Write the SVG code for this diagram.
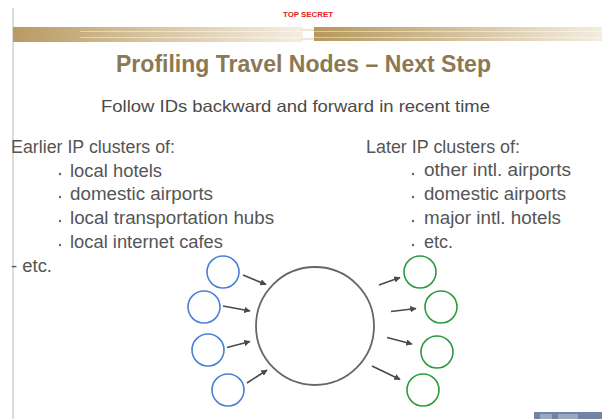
<svg xmlns="http://www.w3.org/2000/svg" width="602" height="419" viewBox="0 0 602 419">
<defs>
<linearGradient id="barL" x1="0" y1="0" x2="1" y2="0">
<stop offset="0" stop-color="#b89a62"/>
<stop offset="0.45" stop-color="#d6c29d"/>
<stop offset="1" stop-color="#f4eee2"/>
</linearGradient>
<linearGradient id="barR" x1="0" y1="0" x2="1" y2="0">
<stop offset="0" stop-color="#b5985c"/>
<stop offset="0.5" stop-color="#d4c19c"/>
<stop offset="1" stop-color="#f3ede0"/>
</linearGradient>
<marker id="ah" viewBox="0 0 10 10" refX="9" refY="5" markerWidth="4" markerHeight="4" orient="auto">
<path d="M0,0 L10,5 L0,10 z" fill="#4a4a4a"/>
</marker>
<style>
.list{font-family:"Liberation Sans","Open Sans",sans-serif;font-size:17.5px;fill:#555555}
.blue{fill:none;stroke:#4a7fd8;stroke-width:1.6}
.green{fill:none;stroke:#2e9a3e;stroke-width:1.6}
.arr{stroke:#4a4a4a;stroke-width:1.6;fill:none;marker-end:url(#ah)}
</style>
</defs>
<rect width="602" height="419" fill="#ffffff"/>
<line x1="13" y1="8" x2="13" y2="419" stroke="#d2d2d2" stroke-width="1.5"/>
<text x="308" y="17" text-anchor="middle" font-family="Liberation Sans,sans-serif" font-size="7.2" font-weight="bold" fill="#e8201c" textLength="50" lengthAdjust="spacingAndGlyphs">TOP SECRET</text>
<!-- header bar -->
<rect x="13" y="27" width="290" height="15" fill="url(#barL)"/>
<rect x="300" y="29" width="14" height="2" fill="#efe6d6"/>
<rect x="300" y="38" width="14" height="2" fill="#efe6d6"/>
<rect x="314" y="27" width="288" height="14" fill="url(#barR)"/>
<rect x="80" y="31" width="522" height="1" fill="#ffffff" opacity="0.45"/>
<rect x="80" y="37" width="522" height="1" fill="#ffffff" opacity="0.45"/>
<text x="116" y="72" font-family="Liberation Sans,sans-serif" font-size="23" font-weight="bold" fill="#8c7852" textLength="375" lengthAdjust="spacingAndGlyphs">Profiling Travel Nodes – Next Step</text>
<text x="101" y="112" font-family="Liberation Sans,sans-serif" font-size="16.5" fill="#4a4a4a" textLength="389" lengthAdjust="spacingAndGlyphs">Follow IDs backward and forward in recent time</text>
<g id="left-list">
<text class="list" x="11" y="153" textLength="164" lengthAdjust="spacingAndGlyphs">Earlier IP clusters of:</text>
<circle cx="60" cy="174" r="1.2" fill="#666"/>
<text class="list" x="70" y="177" textLength="92" lengthAdjust="spacingAndGlyphs">local hotels</text>
<circle cx="60" cy="197" r="1.2" fill="#666"/>
<text class="list" x="70" y="200" textLength="143" lengthAdjust="spacingAndGlyphs">domestic airports</text>
<circle cx="60" cy="221" r="1.2" fill="#666"/>
<text class="list" x="70" y="224" textLength="204" lengthAdjust="spacingAndGlyphs">local transportation hubs</text>
<circle cx="60" cy="245" r="1.2" fill="#666"/>
<text class="list" x="70" y="248" textLength="153" lengthAdjust="spacingAndGlyphs">local internet cafes</text>
<text class="list" x="11" y="272" textLength="41" lengthAdjust="spacingAndGlyphs">- etc.</text>
</g>
<g id="right-list">
<text class="list" x="366" y="153" textLength="154" lengthAdjust="spacingAndGlyphs">Later IP clusters of:</text>
<circle cx="413" cy="174" r="1.2" fill="#666"/>
<text class="list" x="424" y="176" textLength="147" lengthAdjust="spacingAndGlyphs">other intl. airports</text>
<circle cx="413" cy="197" r="1.2" fill="#666"/>
<text class="list" x="424" y="200" textLength="142" lengthAdjust="spacingAndGlyphs">domestic airports</text>
<circle cx="413" cy="221" r="1.2" fill="#666"/>
<text class="list" x="424" y="224" textLength="137" lengthAdjust="spacingAndGlyphs">major intl. hotels</text>
<circle cx="413" cy="245" r="1.2" fill="#666"/>
<text class="list" x="424" y="248" textLength="29" lengthAdjust="spacingAndGlyphs">etc.</text>
</g>
<g id="center"><circle cx="315" cy="326" r="59" fill="none" stroke="#666666" stroke-width="1.8"/></g>
<g id="in1"><circle class="blue" cx="223" cy="272" r="16"/></g>
<g id="in2"><circle class="blue" cx="204" cy="307" r="16"/></g>
<g id="in3"><circle class="blue" cx="208" cy="350" r="16"/></g>
<g id="in4"><circle class="blue" cx="228" cy="390" r="16"/></g>
<g id="out1"><circle class="green" cx="420" cy="272" r="16"/></g>
<g id="out2"><circle class="green" cx="441" cy="307" r="16"/></g>
<g id="out3"><circle class="green" cx="437" cy="352" r="16"/></g>
<g id="out4"><circle class="green" cx="423" cy="390" r="16"/></g>
<g id="connectors">
<line class="arr" x1="243" y1="275" x2="266" y2="284.5"/>
<line class="arr" x1="223" y1="306" x2="250" y2="311"/>
<line class="arr" x1="227" y1="347.5" x2="250" y2="341.5"/>
<line class="arr" x1="247" y1="383" x2="267" y2="370"/>
<line class="arr" x1="379" y1="285" x2="400" y2="277.5"/>
<line class="arr" x1="391" y1="311.5" x2="416" y2="308.5"/>
<line class="arr" x1="387" y1="337.5" x2="412" y2="344"/>
<line class="arr" x1="372" y1="366" x2="400" y2="379.5"/>
</g>
<rect x="534" y="412" width="68" height="7" fill="#7184a6"/>
<rect x="540" y="414" width="12" height="5" fill="#9aa8c2"/>
<rect x="558" y="414" width="20" height="5" fill="#9aa8c2"/>
</svg>
